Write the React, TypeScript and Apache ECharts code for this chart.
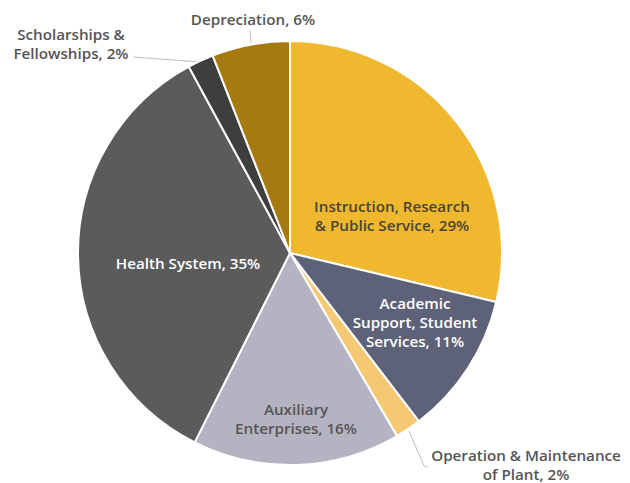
import React, { useEffect, useRef } from "react";
import * as echarts from "echarts";

const categories = [
  "Instruction, Research\n& Public Service, 29%",
  "Academic\nSupport, Student\nServices, 11%",
  "Operation & Maintenance\nof Plant, 2%",
  "Auxiliary\nEnterprises, 16%",
  "Health System, 35%",
  "Scholarships &\nFellowships, 2%",
  "Depreciation, 6%",
];
const values = [29, 11, 2, 16, 35, 2, 6];
const colors = ["#F0B82F", "#5E6278", "#F5C874", "#B4B3C1", "#5B5B5B", "#3E3E3E", "#A67A10"];
const labelColors = ["#4A4536", "#FFFFFF", "#555555", "#555555", "#FFFFFF", "#555555", "#555555"];

// label placement (layout only)
const labelPos: Array<{ x: number; y: number; line?: number[][] }> = [
  { x: 392, y: 215 },
  { x: 415, y: 322 },
  { x: 526, y: 464, line: [[409, 431], [424, 466], [428, 467]] },
  { x: 296, y: 418 },
  { x: 188, y: 263 },
  { x: 71, y: 43, line: [[200, 62], [133, 57]] },
  { x: 253, y: 19, line: [[251, 43], [250, 30]] },
];

export default function App() {
  const ref = useRef<HTMLDivElement>(null);
  useEffect(() => {
    document.body.style.margin = "0";
    const chart = echarts.init(ref.current!, undefined, { renderer: "svg" });
    chart.setOption({
      animation: false,
      backgroundColor: "#FFFFFF",
      series: [
        {
          type: "pie",
          center: [290, 253],
          radius: 212,
          startAngle: 90,
          clockwise: true,
          data: categories.map((name, i) => ({
            name,
            value: values[i],
            itemStyle: { color: colors[i] },
            label: {
              color: labelColors[i],
              position: labelPos[i].line ? "outside" : "inside",
            },
            labelLine: { show: !!labelPos[i].line },
          })),
          itemStyle: { borderColor: "#FFFFFF", borderWidth: 2 },
          label: {
            show: true,
            formatter: "{b}",
            fontFamily: "Open Sans",
            fontWeight: 600,
            fontSize: 15.2,
            lineHeight: 19,
            align: "center",
            overflow: "none",
          },
          labelLine: {
            lineStyle: { color: "#BDBDBD", width: 1 },
          },
          labelLayout: (p: any) => {
            const lp = labelPos[p.dataIndex];
            const r: any = { x: lp.x, y: lp.y, align: "center", verticalAlign: "middle" };
            if (lp.line) r.labelLinePoints = lp.line;
            return r;
          },
        },
      ],
    });
    return () => chart.dispose();
  }, []);
  return <div ref={ref} style={{ width: 630, height: 483 }} />;
}
